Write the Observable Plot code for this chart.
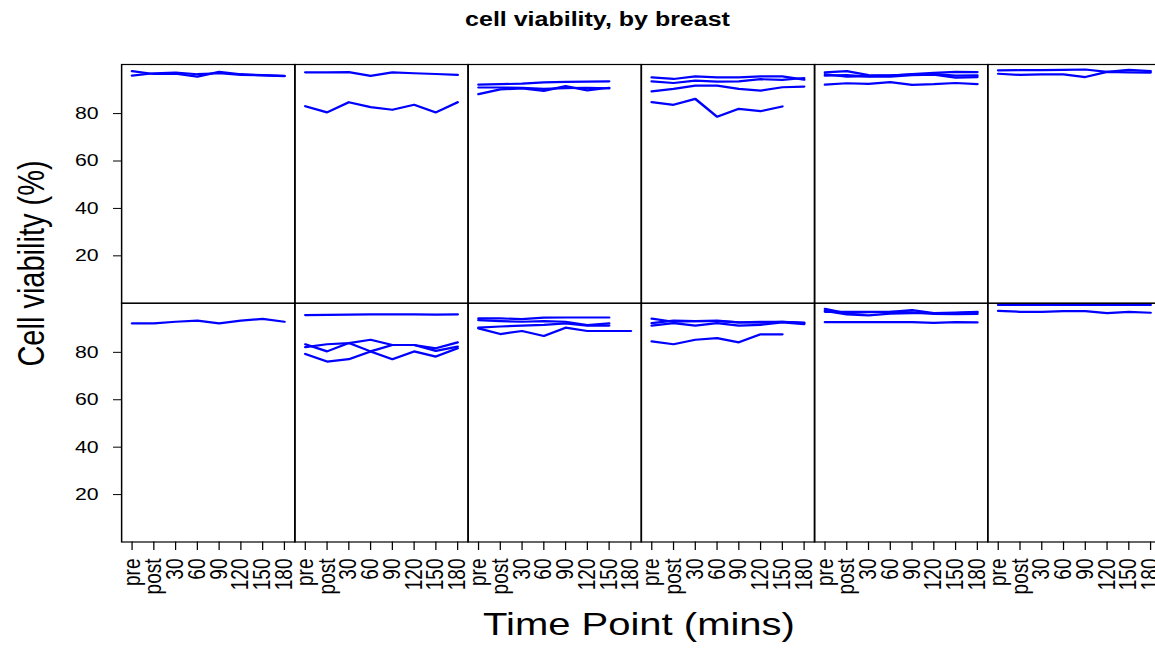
<!DOCTYPE html>
<html><head><meta charset="utf-8">
<script src="https://cdn.jsdelivr.net/npm/d3@7"></script>
<script src="https://cdn.jsdelivr.net/npm/@observablehq/plot@0.6"></script>
<style>
html,body{margin:0;padding:0;background:#fff;width:1155px;height:653px;overflow:hidden;}
#chart{position:relative;width:1155px;height:653px;overflow:hidden;}
</style></head><body><div id="chart"></div>
<script>
// ---- data ----
const timePoints = ["pre", "post", "30", "60", "90", "120", "150", "180"];
const panelCols = [1, 2, 3, 4, 5, 6];
const panelRows = [1, 2];
const yTicks = [20, 40, 60, 80];
const chartTitle = "cell viability, by breast";
const yTitle = "Cell viability (%)";
const xTitle = "Time Point (mins)";

// each panel: list of series, values at timePoints (null = not measured)
const top1 = [
  [97.9, 96.7, 96.8, 95.6, 97.6, 96.6, 96.2, 95.9],
  [96.0, 97.0, 97.3, 96.6, 97.0, 96.3, 96.1, 95.8]
];
const top2 = [
  [97.4, 97.4, 97.5, 95.9, 97.4, 97.0, 96.7, 96.3],
  [83.1, 80.5, 84.8, 82.7, 81.6, 83.7, 80.5, 84.8]
];
const top3 = [
  [92.2, 92.4, 92.6, 93.2, 93.4, 93.5, 93.6, null],
  [91.0, 91.0, 90.8, 90.4, 90.7, 90.9, 90.6, null],
  [88.2, 90.2, 90.6, 89.6, 91.6, 89.8, 90.9, null]
];
const top4 = [
  [95.3, 94.6, 95.7, 95.3, 95.3, 95.7, 95.7, 94.3],
  [93.6, 92.9, 93.9, 93.5, 93.6, 94.5, 94.2, 95.0],
  [89.4, 90.4, 91.8, 91.8, 90.4, 89.7, 91.1, 91.4],
  [84.8, 83.7, 86.2, 78.7, 82.0, 81.0, 83.0, null]
];
const top5 = [
  [97.4, 97.9, 96.2, 96.0, 96.6, 97.2, 97.6, 97.5],
  [96.6, 95.6, 95.8, 96.1, 96.4, 96.7, 96.0, 96.1],
  [96.0, 96.2, 95.6, 95.6, 96.2, 96.4, 95.2, 95.4],
  [92.2, 92.8, 92.5, 93.3, 92.1, 92.4, 92.9, 92.4]
];
const top6 = [
  [98.2, 98.3, 98.3, 98.4, 98.6, 97.6, 98.4, 97.9],
  [96.8, 96.3, 96.5, 96.5, 95.4, 97.6, 97.4, 97.3]
];
const bottom1 = [
  [92.2, 92.2, 92.9, 93.4, 92.2, 93.4, 94.1, 92.9]
];
const bottom2 = [
  [95.7, 95.8, 95.9, 96.0, 96.0, 96.0, 95.9, 96.0],
  [83.4, 80.4, 83.9, 80.4, 77.1, 80.4, 78.2, 81.7],
  [82.2, 83.4, 83.9, 85.3, 83.1, 83.1, 81.7, 84.2],
  [79.3, 76.1, 77.1, 80.4, 83.1, 83.1, 80.6, 82.4]
];
const bottom3 = [
  [94.3, 94.3, 94.0, 94.6, 94.7, 94.7, 94.7, null],
  [93.6, 93.2, 92.9, 93.2, 92.9, 91.5, 92.2, null],
  [90.4, 90.9, 91.3, 91.6, 92.2, 91.3, 91.3, null],
  [90.1, 87.7, 89.0, 86.9, 90.4, 89.0, 89.0, 89.0]
];
const bottom4 = [
  [94.2, 92.9, 93.2, 93.2, 92.6, 92.5, 92.9, 92.5],
  [92.3, 93.4, 93.2, 93.4, 92.6, 92.9, 92.9, 92.3],
  [91.3, 92.3, 91.3, 92.3, 91.3, 91.6, 92.6, 91.9],
  [84.6, 83.4, 85.3, 86.0, 84.2, 87.6, 87.6, null]
];
const bottom5 = [
  [98.3, 96.5, 96.9, 97.1, 97.8, 96.5, 96.8, 97.1],
  [97.5, 96.0, 95.6, 96.3, 96.5, 96.5, 96.5, 96.9],
  [97.1, 97.1, 97.1, 97.1, 96.9, 96.2, 96.1, 96.2],
  [92.7, 92.7, 92.7, 92.7, 92.7, 92.4, 92.7, 92.6]
];
const bottom6 = [
  [100, 100, 100, 100, 100, 100, 100, 100],
  [97.5, 97.1, 97.1, 97.4, 97.4, 96.5, 97.1, 96.7]
];

const topRow = [top1, top2, top3, top4, top5, top6];
const bottomRow = [bottom1, bottom2, bottom3, bottom4, bottom5, bottom6];

const rows = [];
[topRow, bottomRow].forEach((row, ri) =>
  row.forEach((panel, ci) =>
    panel.forEach((series, si) =>
      series.forEach((v, ti) => {
        if (v != null) rows.push({row: panelRows[ri], col: panelCols[ci], series: `${ri}-${ci}-${si}`, time: timePoints[ti], value: v});
      }))));

// ---- chart ----
const S = 1.25;               // horizontal stretch of the original picture
const W = 1162 / S;
const H = 653;

const svg = Plot.plot({
  width: W, height: H,
  marginTop: 64, marginBottom: 111.5,
  marginLeft: 121 / S, marginRight: W - 1160.4 / S,
  style: {fontFamily: '"Liberation Sans", Arial, Helvetica, sans-serif', color: "black", background: "white"},
  fx: {domain: panelCols, padding: 0, round: false, axis: null},
  fy: {domain: panelRows, padding: 0, round: false, axis: null},
  x: {type: "point", domain: timePoints, padding: 0.48, round: false},
  y: {domain: [0, 100.7]},
  marks: [
    Plot.line(rows, {fx: "col", fy: "row", x: "time", y: "value", z: "series", stroke: "#0000ff", strokeWidth: 2.2}),
    Plot.frame({stroke: "black", strokeWidth: 1.2}),
    Plot.axisY({ticks: yTicks, tickSize: 8 / S, tickPadding: 12, fontSize: 17, label: null, facetAnchor: "left"}),
    Plot.axisX({tickSize: 8.5, tickPadding: 8, tickRotate: -90, fontSize: 19, label: null, facetAnchor: "bottom"})
  ]
});

svg.setAttribute("viewBox", `0 0 ${W} ${H}`);
svg.setAttribute("preserveAspectRatio", "none");
svg.setAttribute("width", W * S);
svg.style.width = (W * S) + "px";
svg.style.height = H + "px";
svg.style.maxWidth = "none";

const g = d3.select(svg).append("g")
  .attr("font-family", '"Liberation Sans", Arial, Helvetica, sans-serif')
  .attr("fill", "black");
g.append("text").text(chartTitle)
  .attr("x", 597.5 / S).attr("y", 26.5)
  .attr("text-anchor", "middle").attr("font-weight", "bold").attr("font-size", 20);
g.append("text").text(yTitle)
  .attr("transform", `translate(${44 / S},263.5) rotate(-90)`)
  .attr("text-anchor", "middle").attr("font-size", 29);
g.append("text").text(xTitle)
  .attr("x", 639 / S).attr("y", 635)
  .attr("text-anchor", "middle").attr("font-size", 32);

document.getElementById("chart").appendChild(svg);
</script>
</body></html>
